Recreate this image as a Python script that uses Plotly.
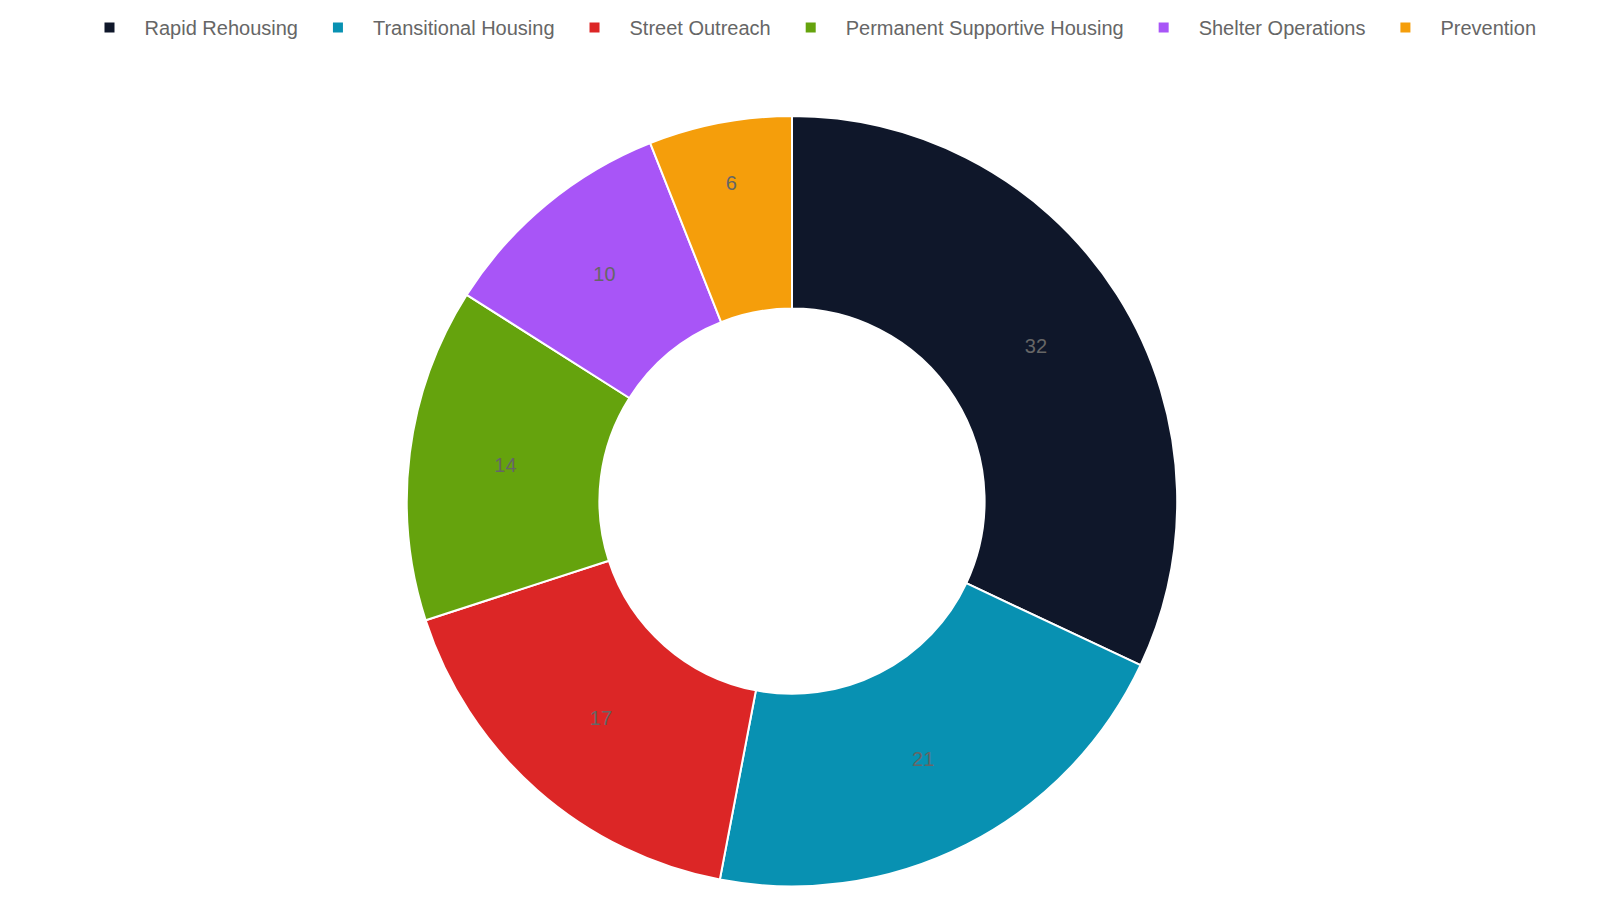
import plotly.graph_objects as go

# funding share by program
programs = ['Rapid Rehousing', 'Transitional Housing', 'Street Outreach',
            'Permanent Supportive Housing', 'Shelter Operations', 'Prevention']
shares = [32, 21, 17, 14, 10, 6]
colors = ['#0f172a', '#0891b2', '#dc2626', '#65a30d', '#a855f7', '#f59e0b']

fig = go.Figure()
fig.add_trace(go.Pie(
    labels=programs,
    values=shares,
    hole=0.5,
    sort=False,
    direction='clockwise',
    rotation=0,
    marker=dict(colors=colors, line=dict(color='white', width=2)),
    textinfo='value',
    textposition='inside',
    insidetextorientation='horizontal',
    textfont=dict(color='#666666', size=20, family='Liberation Sans, Arial'),
    domain=dict(x=[0.249, 0.731], y=[0.024, 0.88]),
    hoverinfo='label+value',
))

fig.update_layout(
    width=1600, height=900,
    margin=dict(l=0, r=0, t=0, b=0),
    paper_bgcolor='white',
    font=dict(family='Liberation Sans, Arial', color='#666666', size=20),
    legend=dict(orientation='h', x=0.5, xanchor='center', y=1.0, yanchor='top',
                font=dict(size=20, color='#666666'), itemwidth=60),
    showlegend=True,
)

fig.write_html("out.html")
